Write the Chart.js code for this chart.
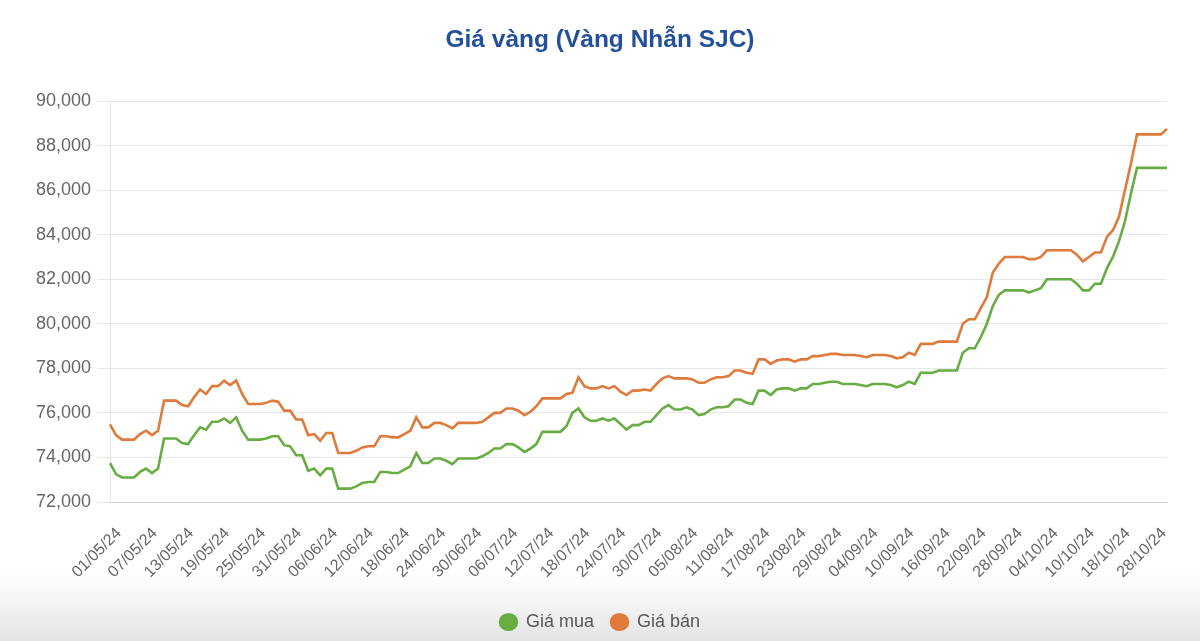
<!DOCTYPE html>
<html>
<head>
<meta charset="utf-8">
<script src="https://cdn.jsdelivr.net/npm/chart.js@4.4.1/dist/chart.umd.min.js"></script>
<style>
  html, body { margin: 0; padding: 0; width: 1200px; height: 641px; overflow: hidden; }
  body { background: linear-gradient(to bottom, #ffffff 0px, #ffffff 572px, #f1f1f1 612px, #e3e3e3 641px); }
  #wrap { position: absolute; left: 0; top: 0; width: 1200px; height: 641px; }
</style>
</head>
<body>
<div id="wrap"><canvas id="c" width="1200" height="641"></canvas></div>
<script>
const chartTitle = 'Giá vàng (Vàng Nhẫn SJC)';
const seriesNames = ['Giá mua', 'Giá bán'];

const dates = [
 '01/05/24','02/05/24','03/05/24','04/05/24','05/05/24','06/05/24','07/05/24','08/05/24','09/05/24','10/05/24',
 '11/05/24','12/05/24','13/05/24','14/05/24','15/05/24','16/05/24','17/05/24','18/05/24','19/05/24','20/05/24',
 '21/05/24','22/05/24','23/05/24','24/05/24','25/05/24','26/05/24','27/05/24','28/05/24','29/05/24','30/05/24',
 '31/05/24','01/06/24','02/06/24','03/06/24','04/06/24','05/06/24','06/06/24','07/06/24','08/06/24','09/06/24',
 '10/06/24','11/06/24','12/06/24','13/06/24','14/06/24','15/06/24','16/06/24','17/06/24','18/06/24','19/06/24',
 '20/06/24','21/06/24','22/06/24','23/06/24','24/06/24','25/06/24','26/06/24','27/06/24','28/06/24','29/06/24',
 '30/06/24','01/07/24','02/07/24','03/07/24','04/07/24','05/07/24','06/07/24','07/07/24','08/07/24','09/07/24',
 '10/07/24','11/07/24','12/07/24','13/07/24','14/07/24','15/07/24','16/07/24','17/07/24','18/07/24','19/07/24',
 '20/07/24','21/07/24','22/07/24','23/07/24','24/07/24','25/07/24','26/07/24','27/07/24','28/07/24','29/07/24',
 '30/07/24','31/07/24','01/08/24','02/08/24','03/08/24','04/08/24','05/08/24','06/08/24','07/08/24','08/08/24',
 '09/08/24','10/08/24','11/08/24','12/08/24','13/08/24','14/08/24','15/08/24','16/08/24','17/08/24','18/08/24',
 '19/08/24','20/08/24','21/08/24','22/08/24','23/08/24','24/08/24','25/08/24','26/08/24','27/08/24','28/08/24',
 '29/08/24','30/08/24','31/08/24','01/09/24','02/09/24','03/09/24','04/09/24','05/09/24','06/09/24','07/09/24',
 '08/09/24','09/09/24','10/09/24','11/09/24','12/09/24','13/09/24','14/09/24','15/09/24','16/09/24','17/09/24',
 '18/09/24','19/09/24','20/09/24','21/09/24','22/09/24','23/09/24','24/09/24','25/09/24','26/09/24','27/09/24',
 '28/09/24','29/09/24','30/09/24','01/10/24','02/10/24','03/10/24','04/10/24','05/10/24','06/10/24','07/10/24',
 '08/10/24','09/10/24','10/10/24','11/10/24','12/10/24','14/10/24','15/10/24','16/10/24','18/10/24','19/10/24',
 '21/10/24','22/10/24','24/10/24','25/10/24','28/10/24','29/10/24','30/10/24'
];

const buyPrices = [
 73750,73250,73100,73100,73100,73350,73500,73300,73500,74850,
 74850,74850,74650,74600,75000,75350,75250,75600,75600,75750,
 75550,75800,75200,74800,74800,74800,74850,74950,74950,74550,
 74500,74100,74100,73400,73500,73200,73500,73500,72600,72600,
 72600,72700,72850,72900,72900,
 73350,73350,73300,73300,73450,73600,74200,73750,73750,73950,
 73950,73850,73700,73950,73950,73950,73950,74050,74200,74400,
 74400,74600,74600,74450,74250,74400,74600,75150,75150,75150,
 75150,75400,76000,76200,75800,75650,75650,75750,75650,75750,
 75500,75250,75450,75450,75600,75600,
 75900,76200,76350,76150,76150,76250,76150,75900,75950,
 76150,76250,76250,76300,76600,76600,76450,76400,77000,77000,
 76800,77050,77100,77100,77000,77100,77100,77300,77300,77350,
 77400,77400,77300,77300,77300,77250,77200,77300,77300,77300,
 77250,77150,77250,77400,77300,77800,
 77800,77800,77900,77900,77900,77900,78700,78900,78900,
 79400,80000,80800,81300,81500,81500,81500,81500,81400,81500,
 81600,82000,82000,82000,82000,82000,81800,81500,81500,81800,
 81800,82500,83000,83700,84600,85850,87000,87000,87000,87000,
 87000,87000
];

const sellPrices = [
 75480,75000,74800,74800,74800,75050,75200,75000,75200,76550,
 76550,76550,76350,76300,76700,77050,76850,77200,77200,77450,
 77250,77450,76850,76400,76400,76400,76450,76550,76500,76100,
 76100,75700,75700,75000,75050,74750,75100,75100,74200,74200,
 74200,74300,74450,74500,74500,
 74950,74950,74900,74900,75050,75200,75800,75350,75350,75550,
 75550,75450,75300,75550,75550,75550,75550,75600,75800,76000,
 76000,76200,76200,76100,75900,76050,76300,76650,76650,76650,
 76650,76850,76900,77600,77200,77100,77100,77200,77100,77200,
 76950,76800,77000,77000,77050,77000,
 77300,77550,77650,77550,77550,77550,77500,77350,77350,
 77500,77600,77600,77650,77900,77900,77800,77750,78400,78400,
 78200,78350,78400,78400,78300,78400,78400,78550,78550,78600,
 78650,78650,78600,78600,78600,78550,78500,78600,78600,78600,
 78550,78450,78500,78700,78600,79100,
 79100,79100,79200,79200,79200,79200,80000,80200,80200,
 80700,81200,82300,82700,83000,83000,83000,83000,82900,82900,
 83000,83300,83300,83300,83300,83300,83100,82800,83000,83200,
 83200,83900,84200,84800,86000,87200,88500,88500,88500,88500,
 88500,88750
];

const yMin = 72000, yMax = 90000, yStep = 2000;
const tickEvery = 6;

const green = '#67ad43';
const orange = '#e07a3b';
const FONT = '"Liberation Sans", Arial, Helvetica, sans-serif';

new Chart(document.getElementById('c'), {
  type: 'line',
  data: {
    labels: dates,
    datasets: [
      { label: seriesNames[0], data: buyPrices, borderColor: green, backgroundColor: green,
        borderWidth: 2.6, pointRadius: 0, tension: 0, fill: false, yAxisID: 'y' },
      { label: seriesNames[1], data: sellPrices, borderColor: orange, backgroundColor: orange,
        borderWidth: 2.6, pointRadius: 0, tension: 0, fill: false, yAxisID: 'y' }
    ]
  },
  options: {
    responsive: false,
    animation: false,
    layout: { padding: { left: 0, right: 0, top: 0, bottom: 0 } },
    plugins: {
      title: {
        display: true, text: chartTitle, color: '#22509b',
        font: { family: FONT, size: 24.5, weight: 'bold' },
        padding: { top: 26, bottom: 45.6 }
      },
      legend: {
        position: 'bottom',
        labels: {
          usePointStyle: true, pointStyle: 'circle', boxWidth: 11, boxHeight: 11, pointStyleWidth: 17,
          padding: 17, color: '#585858', font: { family: FONT, size: 18 }
        }
      },
      tooltip: { enabled: false }
    },
    scales: {
      x: {
        grid: { display: false, drawTicks: false },
        border: { color: '#cfcfcf', width: 1 },
        ticks: {
          autoSkip: false, maxRotation: 45, minRotation: 45, padding: 22, labelOffset: 9,
          color: '#666666', font: { family: FONT, size: 16 },
          callback: function (v, i) { return i % tickEvery === 0 ? this.getLabelForValue(v) : null; }
        },
        afterFit: function (s) { s.height = 94; }
      },
      y: {
        min: yMin, max: yMax,
        grid: { color: '#e6e6e6', tickLength: 13, lineWidth: 1 },
        border: { color: '#e6e6e6' },
        ticks: {
          stepSize: yStep, padding: 6, color: '#666666', font: { family: FONT, size: 18 },
          callback: function (v) { return v.toLocaleString('en-US'); }
        },
        afterFit: function (s) { s.width = 110; }
      },
      yRight: {
        type: 'linear', position: 'right', display: true,
        grid: { display: false, drawTicks: false },
        border: { display: false },
        ticks: { display: false },
        afterFit: function (s) { s.width = 33; }
      }
    }
  }
});
</script>
</body>
</html>
